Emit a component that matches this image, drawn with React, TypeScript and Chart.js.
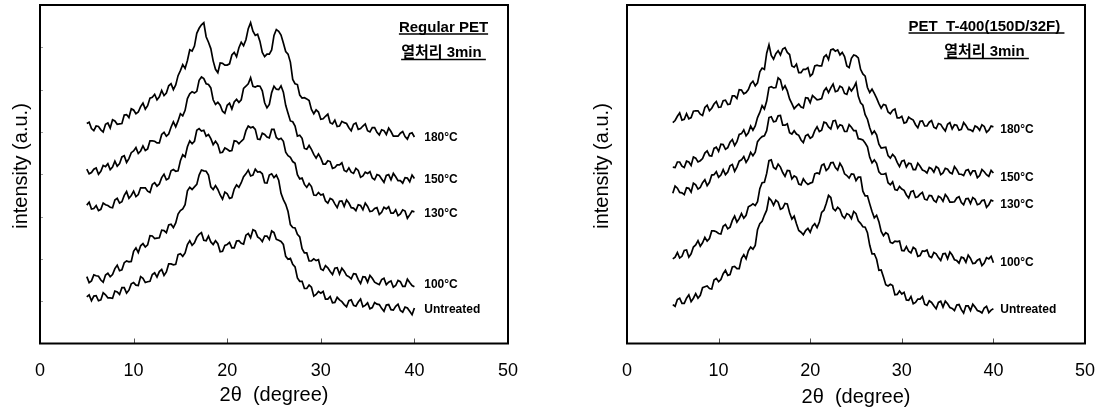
import React, { useEffect, useRef } from "react";
import { Chart, registerables } from "chart.js";

Chart.register(...registerables);

// 2θ sampling positions (degree)
const twoTheta = [
  5, 5.25, 5.5, 5.75, 6, 6.25, 6.5, 6.75, 7, 7.25,
  7.5, 7.75, 8, 8.25, 8.5, 8.75, 9, 9.25, 9.5, 9.75,
  10, 10.25, 10.5, 10.75, 11, 11.25, 11.5, 11.75, 12, 12.25,
  12.5, 12.75, 13, 13.25, 13.5, 13.75, 14, 14.25, 14.5, 14.75,
  15, 15.25, 15.5, 15.75, 16, 16.25, 16.5, 16.75, 17, 17.25,
  17.5, 17.75, 18, 18.25, 18.5, 18.75, 19, 19.25, 19.5, 19.75,
  20, 20.25, 20.5, 20.75, 21, 21.25, 21.5, 21.75, 22, 22.25,
  22.5, 22.75, 23, 23.25, 23.5, 23.75, 24, 24.25, 24.5, 24.75,
  25, 25.25, 25.5, 25.75, 26, 26.25, 26.5, 26.75, 27, 27.25,
  27.5, 27.75, 28, 28.25, 28.5, 28.75, 29, 29.25, 29.5, 29.75,
  30, 30.25, 30.5, 30.75, 31, 31.25, 31.5, 31.75, 32, 32.25,
  32.5, 32.75, 33, 33.25, 33.5, 33.75, 34, 34.25, 34.5, 34.75,
  35, 35.25, 35.5, 35.75, 36, 36.25, 36.5, 36.75, 37, 37.25,
  37.5, 37.75, 38, 38.25, 38.5, 38.75, 39, 39.25, 39.5, 39.75,
  40,
];

const seriesNames = ["180°C", "150°C", "130°C", "100°C", "Untreated"];
const xTickValues = [0, 10, 20, 30, 40, 50];

// ---- Regular PET (left panel), intensity in a.u. (stack offsets included) ----
const regular180 = [
  520, 523, 508, 503, 514, 513, 505, 500, 518, 521,
  509, 529, 526, 518, 519, 520, 540, 541, 534, 555,
  552, 543, 547, 560, 568, 554, 562, 580, 582, 589,
  576, 583, 598, 586, 592, 609, 614, 600, 611, 633,
  645, 659, 650, 669, 694, 691, 703, 733, 745, 753,
  758, 725, 712, 697, 668, 648, 640, 663, 662, 658,
  658, 661, 682, 688, 678, 699, 712, 704, 718, 744,
  758, 738, 728, 731, 714, 688, 678, 684, 684, 694,
  728, 742, 738, 729, 710, 690, 684, 665, 624, 614,
  612, 587, 580, 581, 578, 574, 553, 543, 552, 547,
  530, 531, 537, 542, 522, 519, 528, 513, 514, 525,
  522, 520, 510, 503, 518, 521, 506, 508, 514, 519,
  503, 500, 510, 510, 499, 493, 505, 503, 494, 509,
  501, 490, 490, 490, 497, 501, 489, 483, 496, 498,
  488,
];
const regular150 = [
  412, 401, 404, 412, 415, 400, 407, 421, 418, 425,
  411, 417, 431, 419, 425, 441, 444, 428, 437, 451,
  455, 463, 449, 455, 467, 456, 460, 479, 479, 478,
  474, 474, 494, 499, 490, 495, 511, 524, 512, 526,
  543, 538, 551, 579, 590, 595, 592, 596, 622, 630,
  626, 614, 612, 604, 576, 565, 570, 563, 549, 544,
  563, 568, 554, 571, 577, 570, 576, 603, 608, 614,
  628, 608, 606, 609, 608, 597, 569, 557, 565, 593,
  608, 601, 600, 609, 594, 563, 544, 526, 524, 514,
  490, 492, 485, 461, 459, 468, 459, 447, 438, 448,
  438, 424, 424, 432, 430, 414, 416, 422, 422, 427,
  409, 406, 415, 405, 402, 414, 409, 393, 396, 405,
  402, 406, 391, 387, 399, 397, 389, 381, 397, 399,
  387, 402, 394, 385, 385, 379, 392, 391, 382, 398,
  390,
];
const regular130 = [
  327, 334, 318, 319, 326, 314, 317, 332, 328, 326,
  322, 321, 339, 343, 332, 335, 350, 359, 343, 350,
  360, 347, 352, 368, 368, 368, 360, 357, 376, 380,
  372, 377, 392, 400, 387, 390, 408, 411, 407, 408,
  432, 446, 441, 465, 479, 472, 478, 504, 508, 502,
  504, 490, 494, 484, 470, 478, 470, 451, 452, 462,
  459, 455, 456, 479, 478, 472, 478, 483, 503, 514,
  510, 512, 506, 483, 482, 497, 494, 488, 486, 506,
  506, 487, 482, 485, 478, 452, 444, 440, 430, 426,
  399, 389, 391, 376, 369, 378, 371, 351, 350, 357,
  351, 353, 337, 332, 343, 340, 330, 321, 336, 337,
  324, 339, 332, 321, 320, 314, 328, 326, 316, 332,
  324, 312, 313, 319, 321, 305, 310, 322, 318, 323,
  308, 308, 316, 302, 306, 316, 313, 296, 304, 313,
  311,
];
const regular100 = [
  158, 144, 148, 162, 160, 159, 150, 145, 162, 166,
  158, 163, 177, 185, 172, 174, 191, 195, 193, 194,
  218, 226, 215, 231, 236, 228, 233, 255, 254, 248,
  249, 250, 268, 267, 262, 280, 282, 274, 285, 306,
  314, 318, 328, 361, 369, 364, 370, 376, 398, 410,
  408, 407, 398, 370, 364, 373, 364, 351, 341, 358,
  354, 343, 345, 365, 375, 369, 380, 394, 401, 410,
  396, 398, 412, 405, 406, 401, 380, 379, 398, 401,
  392, 398, 386, 355, 340, 329, 312, 281, 274, 273,
  258, 252, 224, 214, 214, 195, 195, 200, 196, 198,
  176, 173, 184, 179, 170, 163, 178, 179, 164, 178,
  171, 161, 158, 153, 165, 164, 151, 142, 158, 157,
  145, 161, 154, 145, 142, 139, 151, 154, 139, 145,
  148, 133, 137, 149, 146, 135, 135, 152, 144, 137,
  134,
];
const regularUntreated = [
  110, 115, 101, 112, 113, 101, 103, 120, 115, 108,
  108, 107, 124, 122, 116, 132, 132, 119, 126, 141,
  144, 138, 137, 158, 154, 144, 146, 147, 163, 167,
  157, 170, 175, 161, 169, 188, 188, 186, 187, 210,
  212, 206, 214, 234, 243, 232, 238, 251, 258, 262,
  244, 243, 254, 240, 234, 243, 236, 217, 218, 232,
  234, 239, 226, 226, 242, 243, 237, 235, 256, 260,
  250, 269, 266, 252, 248, 241, 254, 254, 246, 266,
  262, 246, 244, 241, 234, 206, 199, 201, 187, 181,
  155, 147, 147, 130, 130, 138, 133, 112, 116, 123,
  119, 123, 105, 105, 111, 96, 97, 109, 103, 99,
  92, 87, 101, 103, 90, 88, 98, 105, 87, 90,
  96, 82, 85, 97, 93, 92, 83, 76, 91, 92,
  80, 79, 88, 93, 78, 74, 86, 84, 76, 68,
  84,
];

// ---- PET T-400 (150D/32F) (right panel) ----
const t400_180 = [
  522, 527, 537, 545, 528, 530, 543, 531, 534, 549,
  550, 550, 542, 539, 558, 563, 550, 556, 566, 572,
  558, 559, 574, 575, 565, 566, 585, 585, 579, 600,
  599, 590, 593, 600, 614, 620, 609, 616, 642, 651,
  648, 686, 706, 681, 672, 685, 692, 682, 696, 699,
  688, 683, 656, 653, 660, 640, 640, 648, 648, 652,
  632, 637, 656, 658, 656, 656, 677, 682, 671, 694,
  696, 691, 694, 682, 688, 678, 656, 652, 674, 682,
  680, 675, 648, 637, 632, 605, 593, 601, 591, 580,
  567, 556, 565, 563, 547, 543, 551, 554, 533, 533,
  537, 521, 523, 535, 531, 528, 517, 510, 525, 526,
  514, 514, 523, 527, 511, 508, 520, 518, 509, 502,
  518, 522, 507, 517, 516, 504, 506, 522, 515, 506,
  505, 501, 514, 511, 504, 517, 513, 499, 504, 514,
  512,
];
const t400_150 = [
  417, 416, 429, 429, 419, 416, 431, 429, 421, 441,
  438, 429, 432, 437, 450, 455, 444, 443, 461, 464,
  454, 471, 470, 459, 463, 476, 482, 468, 477, 494,
  496, 505, 491, 498, 514, 504, 514, 534, 546, 562,
  554, 573, 605, 607, 604, 605, 628, 623, 601, 609,
  597, 578, 567, 555, 561, 566, 559, 557, 581, 580,
  569, 586, 581, 576, 577, 579, 597, 604, 593, 604,
  613, 595, 597, 608, 605, 591, 589, 605, 597, 605,
  616, 584, 569, 563, 541, 530, 510, 495, 502, 493,
  471, 462, 463, 464, 444, 438, 447, 441, 428, 418,
  431, 433, 417, 426, 425, 411, 411, 426, 419, 410,
  408, 403, 416, 413, 405, 418, 414, 399, 403, 414,
  412, 404, 401, 418, 411, 400, 400, 397, 409, 411,
  399, 408, 408, 392, 397, 411, 406, 399, 395, 409,
  403,
];
const t400_130 = [
  355, 372, 367, 357, 356, 352, 368, 367, 358, 379,
  375, 365, 369, 380, 387, 373, 381, 398, 399, 406,
  393, 398, 411, 399, 405, 420, 423, 407, 417, 431,
  434, 442, 428, 437, 452, 444, 452, 477, 484, 489,
  491, 503, 534, 536, 524, 525, 538, 539, 516, 516,
  519, 498, 495, 503, 495, 492, 481, 475, 491, 494,
  485, 489, 503, 512, 501, 504, 523, 521, 512, 507,
  526, 527, 509, 517, 515, 501, 501, 517, 511, 503,
  503, 484, 483, 481, 474, 465, 440, 427, 434, 426,
  406, 400, 400, 402, 380, 375, 382, 364, 362, 371,
  365, 362, 351, 344, 359, 361, 345, 347, 353, 357,
  341, 339, 350, 349, 338, 334, 348, 345, 336, 352,
  345, 334, 334, 335, 344, 347, 333, 328, 342, 343,
  331, 345, 341, 328, 330, 338, 339, 322, 328, 339,
  336,
];
const t400_100 = [
  200, 204, 215, 202, 206, 220, 221, 204, 212, 228,
  233, 243, 230, 238, 251, 242, 248, 266, 266, 264,
  260, 259, 277, 281, 271, 275, 291, 301, 287, 295,
  307, 296, 303, 323, 326, 330, 326, 335, 366, 380,
  381, 402, 432, 434, 416, 412, 424, 417, 404, 395,
  409, 408, 389, 396, 393, 377, 375, 389, 381, 376,
  379, 381, 401, 403, 401, 421, 424, 409, 414, 427,
  428, 416, 410, 426, 417, 401, 397, 391, 401, 400,
  385, 393, 393, 360, 349, 349, 330, 312, 297, 303,
  288, 265, 255, 262, 258, 239, 237, 242, 241, 242,
  220, 219, 229, 218, 214, 227, 223, 206, 208, 219,
  218, 221, 206, 203, 215, 212, 203, 196, 212, 213,
  200, 216, 209, 198, 196, 190, 204, 202, 192, 209,
  201, 189, 190, 197, 200, 184, 190, 203, 200, 206,
  191,
];
const t400Untreated = [
  92, 88, 104, 107, 95, 95, 107, 115, 99, 107,
  118, 107, 114, 132, 134, 136, 130, 129, 150, 154,
  146, 151, 165, 173, 161, 163, 181, 182, 177, 177,
  201, 210, 200, 219, 228, 223, 232, 269, 283, 289,
  303, 315, 344, 338, 327, 339, 334, 317, 320, 331,
  330, 309, 294, 301, 283, 267, 263, 257, 267, 272,
  263, 277, 283, 274, 287, 310, 315, 331, 350, 345,
  319, 314, 322, 317, 302, 296, 307, 304, 295, 312,
  307, 290, 284, 276, 275, 262, 232, 212, 212, 199,
  173, 174, 157, 139, 136, 140, 137, 115, 116, 124,
  117, 121, 103, 102, 111, 94, 97, 105, 105, 111,
  93, 90, 101, 97, 89, 82, 97, 100, 86, 100,
  94, 85, 83, 78, 91, 92, 80, 72, 89, 89,
  78, 93, 86, 78, 76, 72, 84, 88, 73, 79,
  82,
];

// label anchor heights (a.u.) for the curve names
const regularLabelY = [487, 386, 307, 138, 80];
const t400LabelY = [506, 391, 328, 192, 79];

const FONT = '"Liberation Sans", Arial, "Noto Sans CJK KR", sans-serif';

type PanelCfg = {
  series: number[][];
  labelY: number[];
  labelX: number;
  title1: string;
  title2: string;
  titleCenter: number;
  titleY: [number, number];
  yTitleX: number;
  xTitleY: number;
  padLeft: number;
  padRight: number;
  yTicks: boolean;
};

function makePlugin(cfg: PanelCfg) {
  return {
    id: "decor",
    afterDraw(chart: any) {
      const { ctx, chartArea: a, scales } = chart;
      const xs = scales.x;
      const ys = scales.y;
      ctx.save();
      // inner tick marks
      ctx.strokeStyle = "#555";
      ctx.lineWidth = 1;
      for (const t of [10, 20, 30, 40]) {
        const px = Math.round(xs.getPixelForValue(t)) + 0.5;
        ctx.beginPath();
        ctx.moveTo(px, a.bottom);
        ctx.lineTo(px, a.bottom - 5);
        ctx.stroke();
      }
      if (cfg.yTicks) {
        ctx.strokeStyle = "#999";
        for (let v = 100; v < 800; v += 100) {
          const py = Math.round(ys.getPixelForValue(v)) + 0.5;
          ctx.beginPath();
          ctx.moveTo(a.left, py);
          ctx.lineTo(a.left + 3, py);
          ctx.stroke();
        }
      }
      // frame
      ctx.strokeStyle = "#000";
      ctx.lineWidth = 2;
      ctx.strokeRect(a.left, a.top, a.right - a.left, a.bottom - a.top);

      // curve labels
      ctx.fillStyle = "#000";
      ctx.font = `bold 12px ${FONT}`;
      ctx.textAlign = "left";
      ctx.textBaseline = "middle";
      seriesNames.forEach((n, i) => {
        ctx.fillText(n, xs.getPixelForValue(cfg.labelX), ys.getPixelForValue(cfg.labelY[i]));
      });

      // titles (underlined)
      ctx.font = `bold 15px ${FONT}`;
      ctx.textAlign = "center";
      ctx.textBaseline = "alphabetic";
      ctx.lineWidth = 1.5;
      [cfg.title1, cfg.title2].forEach((t, i) => {
        const y = cfg.titleY[i];
        ctx.fillText(t, cfg.titleCenter, y);
        const w = ctx.measureText(t).width;
        ctx.beginPath();
        ctx.moveTo(cfg.titleCenter - w / 2, y + 2.5);
        ctx.lineTo(cfg.titleCenter + w / 2, y + 2.5);
        ctx.stroke();
      });

      // axis titles
      ctx.font = `20px ${FONT}`;
      ctx.textBaseline = "middle";
      ctx.textAlign = "center";
      ctx.fillText("2\u03b8  (degree)", (a.left + a.right) / 2, cfg.xTitleY);
      ctx.save();
      ctx.translate(cfg.yTitleX, 166);
      ctx.rotate(-Math.PI / 2);
      ctx.fillText("intensity (a.u.)", 0, 0);
      ctx.restore();
      ctx.restore();
    },
  };
}

function Panel({ cfg, left }: { cfg: PanelCfg; left: number }) {
  const ref = useRef<HTMLCanvasElement | null>(null);
  useEffect(() => {
    if (!ref.current) return;
    const chart = new Chart(ref.current, {
      type: "line",
      data: {
        datasets: cfg.series.map((s, i) => ({
          label: seriesNames[i],
          data: s.map((y, k) => ({ x: twoTheta[k], y })),
          borderColor: "#000",
          borderWidth: 1.7,
          pointRadius: 0,
          tension: 0,
          fill: false,
        })),
      },
      options: {
        animation: false,
        responsive: false,
        devicePixelRatio: 1,
        layout: { padding: { left: cfg.padLeft, right: cfg.padRight, top: 5, bottom: 0 } },
        plugins: { legend: { display: false }, tooltip: { enabled: false }, title: { display: false } },
        scales: {
          x: {
            type: "linear",
            min: 0,
            max: 50,
            afterBuildTicks: (s: any) => {
              s.ticks = xTickValues.map((v) => ({ value: v }));
            },
            afterFit: (s: any) => {
              s.height = 65.5;
            },
            ticks: { font: { size: 18, family: FONT }, color: "#000", padding: 9, maxRotation: 0 },
            grid: { display: false },
            border: { display: false },
          },
          y: { type: "linear", min: 0, max: 800, display: false },
        },
      },
      plugins: [makePlugin(cfg)],
    } as any);
    return () => chart.destroy();
  }, [cfg]);
  return (
    <canvas
      ref={ref}
      width={552}
      height={409}
      style={{ position: "absolute", left, top: 0, width: 552, height: 409 }}
    />
  );
}

const leftCfg: PanelCfg = {
  series: [regular180, regular150, regular130, regular100, regularUntreated],
  labelY: regularLabelY,
  labelX: 41.05,
  title1: "Regular PET",
  title2: "열처리 3min ",
  titleCenter: 443.5,
  titleY: [31.5, 57],
  yTitleX: 21,
  xTitleY: 395,
  padLeft: 40,
  padRight: 44,
  yTicks: true,
};

const rightCfg: PanelCfg = {
  series: [t400_180, t400_150, t400_130, t400_100, t400Untreated],
  labelY: t400LabelY,
  labelX: 40.75,
  title1: "PET  T-400(150D/32F) ",
  title2: "열처리 3min ",
  titleCenter: 434.5,
  titleY: [30.5, 56],
  yTitleX: 50,
  xTitleY: 397,
  padLeft: 75,
  padRight: 14,
  yTicks: false,
};

export default function App() {
  return (
    <div style={{ position: "absolute", left: 0, top: 0, width: 1104, height: 409, background: "#fff" }}>
      <Panel cfg={leftCfg} left={0} />
      <Panel cfg={rightCfg} left={552} />
    </div>
  );
}
